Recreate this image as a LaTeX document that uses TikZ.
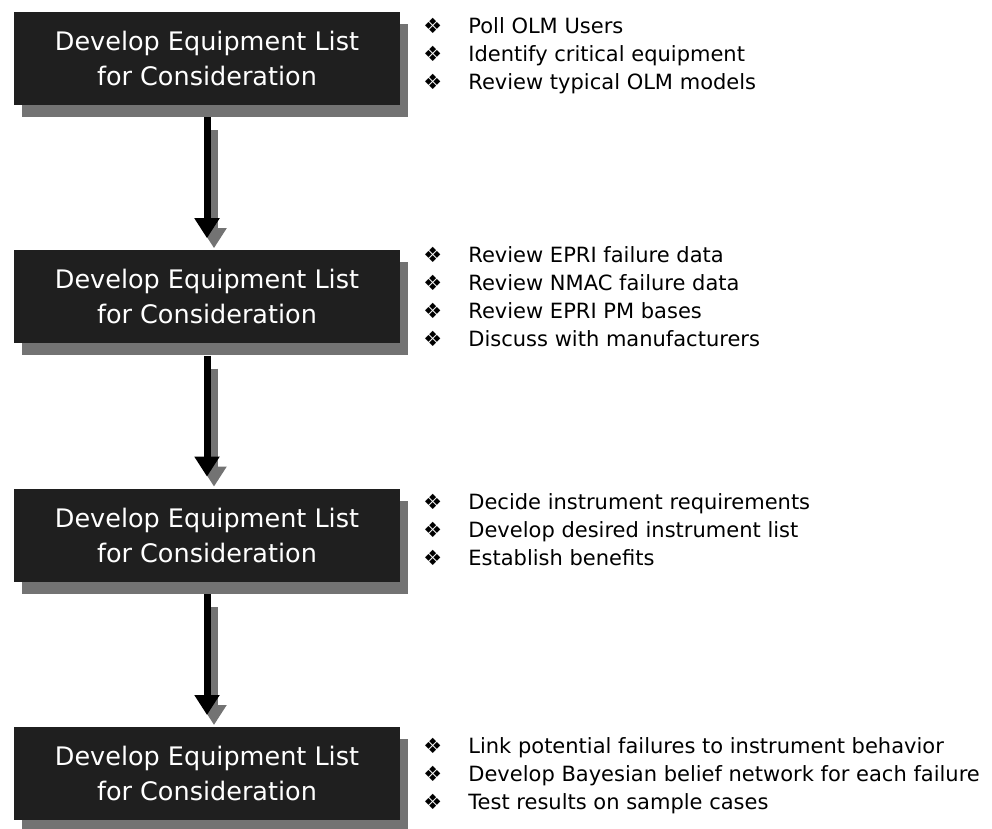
\documentclass[tikz,border=0pt]{standalone}
\usepackage{fontspec}
\setmainfont{DejaVu Sans}
\usetikzlibrary{positioning,shadows,arrows.meta}
\newcommand{\taskitem}[1]{\makebox[45pt][l]{❖}#1}

\tikzset{
  stagebox/.style={fill=black!88, text=white, minimum width=386pt, minimum height=93pt,
    inner sep=0pt, align=center, font=\fontsize{25.5}{35}\selectfont,
    drop shadow={shadow xshift=8pt, shadow yshift=-12pt, fill=black!55, opacity=1}},
  tasklist/.style={inner sep=0pt, align=left, font=\fontsize{21}{28}\selectfont},
  stagearrow/.style={line width=7pt, -{Triangle[width=24pt,length=20pt]}},
  arrowshadow/.style={stagearrow, black!55}
}

\begin{document}
\begin{tikzpicture}[x=1pt,y=1pt,node distance=145pt]
    \useasboundingbox (0,0) rectangle (992,-828);
    % Stage boxes
    \node[stagebox] (s1) at (207,-58.5) {Develop Equipment List\\for Consideration};
    \node[stagebox, below=of s1] (s2) {Develop Equipment List\\for Consideration};
    \node[stagebox, below=of s2] (s3) {Develop Equipment List\\for Consideration};
    \node[stagebox, below=of s3] (s4) {Develop Equipment List\\for Consideration};
    % Task lists
    \node[tasklist, right=23pt of s1, yshift=3pt] (t1) {\taskitem{Poll OLM Users}\\
        \taskitem{Identify critical equipment}\\
        \taskitem{Review typical OLM models}};
    \node[tasklist, right=23pt of s2] (t2) {\taskitem{Review EPRI failure data}\\
        \taskitem{Review NMAC failure data}\\
        \taskitem{Review EPRI PM bases}\\
        \taskitem{Discuss with manufacturers}};
    \node[tasklist, right=23pt of s3, yshift=6pt] (t3) {\taskitem{Decide instrument requirements}\\
        \taskitem{Develop desired instrument list}\\
        \taskitem{Establish benefits}};
    \node[tasklist, right=23pt of s4, yshift=-2pt] (t4) {\taskitem{Link potential failures to instrument behavior}\\
        \taskitem{Develop Bayesian belief network for each failure}\\
        \taskitem{Test results on sample cases}};
    % Arrows between stages
    \foreach \a/\b in {s1/s2,s2/s3,s3/s4}{
        \draw[arrowshadow] ([shift={(7pt,-25pt)}]\a.south) -- ([shift={(7pt,2pt)}]\b.north);
        \draw[stagearrow] ([yshift=-12pt]\a.south) -- ([yshift=12pt]\b.north);
    }
\end{tikzpicture}
\end{document}
